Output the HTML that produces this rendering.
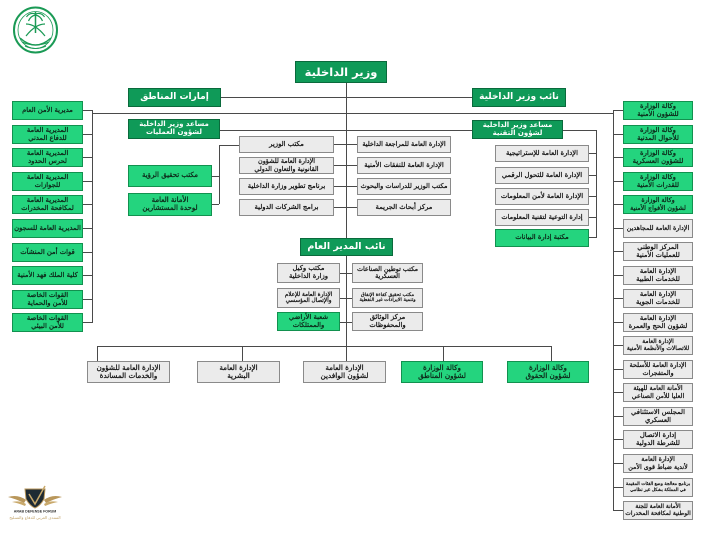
<!DOCTYPE html>
<html><head><meta charset="utf-8">
<style>
html,body{margin:0;padding:0;background:#fff;}
#c{position:relative;width:704px;height:536px;overflow:hidden;background:#fff;font-family:"DejaVu Sans","Liberation Sans",sans-serif;}
.b{position:absolute;display:flex;align-items:center;justify-content:center;text-align:center;box-sizing:border-box;direction:rtl;white-space:nowrap;line-height:1.12;}
.d{background:#0f9a58;border:1px solid #0a6a3c;color:#fff;font-weight:bold;}
.l{background:#24d47e;border:1px solid #12914f;color:#0d2417;font-size:6.8px;-webkit-text-stroke:0.25px #0d2417;}
.g{background:#ebebeb;border:1px solid #8a8a8a;color:#111;font-size:6.8px;-webkit-text-stroke:0.25px #111;}
svg{position:absolute;left:0;top:0;}
</style></head><body><div id="c">
<svg width="704" height="536" viewBox="0 0 704 536">
<g stroke="#4a4a4a" stroke-width="1" fill="none" shape-rendering="crispEdges">
<line x1="346.5" y1="83" x2="346.5" y2="238"/>
<line x1="346.5" y1="256" x2="346.5" y2="346"/>
<line x1="221" y1="97.5" x2="472" y2="97.5"/>
<line x1="92.5" y1="113.5" x2="613.5" y2="113.5"/>
<line x1="220" y1="130.5" x2="472" y2="130.5"/>
<line x1="92.5" y1="110" x2="92.5" y2="323"/>
<line x1="83" y1="110.5" x2="92" y2="110.5"/><line x1="83" y1="134.5" x2="92" y2="134.5"/><line x1="83" y1="157.5" x2="92" y2="157.5"/><line x1="83" y1="181.5" x2="92" y2="181.5"/><line x1="83" y1="204.5" x2="92" y2="204.5"/><line x1="83" y1="228.5" x2="92" y2="228.5"/><line x1="83" y1="252.5" x2="92" y2="252.5"/><line x1="83" y1="275.5" x2="92" y2="275.5"/><line x1="83" y1="299.5" x2="92" y2="299.5"/><line x1="83" y1="322.5" x2="92" y2="322.5"/>
<line x1="613.5" y1="110" x2="613.5" y2="511"/>
<line x1="613" y1="110.5" x2="623" y2="110.5"/><line x1="613" y1="134.5" x2="623" y2="134.5"/><line x1="613" y1="157.5" x2="623" y2="157.5"/><line x1="613" y1="181.5" x2="623" y2="181.5"/><line x1="613" y1="204.5" x2="623" y2="204.5"/><line x1="613" y1="228.5" x2="623" y2="228.5"/><line x1="613" y1="251.5" x2="623" y2="251.5"/><line x1="613" y1="275.5" x2="623" y2="275.5"/><line x1="613" y1="298.5" x2="623" y2="298.5"/><line x1="613" y1="322.5" x2="623" y2="322.5"/><line x1="613" y1="345.5" x2="623" y2="345.5"/><line x1="613" y1="369.5" x2="623" y2="369.5"/><line x1="613" y1="392.5" x2="623" y2="392.5"/><line x1="613" y1="416.5" x2="623" y2="416.5"/><line x1="613" y1="439.5" x2="623" y2="439.5"/><line x1="613" y1="463.5" x2="623" y2="463.5"/><line x1="613" y1="487.5" x2="623" y2="487.5"/><line x1="613" y1="510.5" x2="623" y2="510.5"/>
<line x1="563" y1="130.5" x2="596.5" y2="130.5"/>
<line x1="596.5" y1="130" x2="596.5" y2="238"/>
<line x1="589" y1="153.5" x2="596" y2="153.5"/><line x1="589" y1="175.5" x2="596" y2="175.5"/><line x1="589" y1="196.5" x2="596" y2="196.5"/><line x1="589" y1="217.5" x2="596" y2="217.5"/><line x1="589" y1="237.5" x2="596" y2="237.5"/>
<line x1="334" y1="144.5" x2="357" y2="144.5"/><line x1="334" y1="165.5" x2="357" y2="165.5"/><line x1="334" y1="186.5" x2="357" y2="186.5"/><line x1="334" y1="207.5" x2="357" y2="207.5"/>
<line x1="219.5" y1="145.5" x2="239" y2="145.5"/>
<line x1="219.5" y1="145" x2="219.5" y2="204"/>
<line x1="212" y1="176.5" x2="219" y2="176.5"/><line x1="212" y1="204.5" x2="219" y2="204.5"/>
<line x1="340" y1="273.5" x2="352" y2="273.5"/><line x1="340" y1="298.5" x2="352" y2="298.5"/><line x1="340" y1="322.5" x2="352" y2="322.5"/>
<line x1="97.5" y1="346.5" x2="551.5" y2="346.5"/>
<line x1="97.5" y1="346" x2="97.5" y2="361"/><line x1="242.5" y1="346" x2="242.5" y2="361"/><line x1="443.5" y1="346" x2="443.5" y2="361"/><line x1="551.5" y1="346" x2="551.5" y2="361"/><line x1="346.5" y1="346" x2="346.5" y2="361"/>
</g>
<g fill="none" stroke="#1a9a55">
<ellipse cx="35.5" cy="30" rx="21.5" ry="22.5" stroke-width="2"/>
<ellipse cx="35.5" cy="30" rx="17.5" ry="18.5" stroke-width="0.8"/>
<line x1="35.5" y1="12" x2="35.5" y2="33" stroke-width="1.5"/>
<path d="M35.5 14 q-6 -2 -9 3 M35.5 14 q6 -2 9 3 M35.5 15 q-5 1 -7 6 M35.5 15 q5 1 7 6" stroke-width="1.2"/>
<path d="M26 36 Q35.5 24 45 24 M45 36 Q35.5 24 26 24" stroke-width="1.2"/>
<path d="M20 38 Q35.5 52 51 38" stroke-width="1.5"/>
<path d="M22 42 Q35.5 48 49 42" stroke-width="1"/>
<path d="M25 46 Q35.5 51 46 46" stroke-width="1"/>
</g>
<g>
<path d="M8 497 Q18 494 26 500 L24 503 Q16 499 8 497Z" fill="#b9975b"/>
<path d="M62 497 Q52 494 44 500 L46 503 Q54 499 62 497Z" fill="#b9975b"/>
<path d="M12 502 Q20 500 26 504 L25 506 Q18 503 12 502Z" fill="#c9a96b"/>
<path d="M58 502 Q50 500 44 504 L45 506 Q52 503 58 502Z" fill="#c9a96b"/>
<path d="M25 489 L45 489 L44 499 Q40 506 35 508 Q30 506 26 499Z" fill="#1e2a33" stroke="#b9975b" stroke-width="1"/>
<path d="M29 494 L35 504 L45 486" fill="none" stroke="#c9a96b" stroke-width="1.5"/>
<text x="35" y="512.5" font-family="Liberation Sans, sans-serif" font-size="3.6" font-weight="bold" fill="#333" text-anchor="middle">ARAB DEFENSE FORUM</text>
<text x="35" y="519" font-family="DejaVu Sans, sans-serif" font-size="4" fill="#c2a36a" text-anchor="middle">المنتدى العربي للدفاع والتسليح</text>
</g>
</svg>

<div class="b d" style="left:295px;top:61px;width:92px;height:22px;font-size:11.5px;">وزير الداخلية</div>
<div class="b d" style="left:128px;top:88px;width:93px;height:19px;font-size:9px;">إمارات المناطق</div>
<div class="b d" style="left:472px;top:88px;width:94px;height:19px;font-size:9px;">نائب وزير الداخلية</div>
<div class="b d" style="left:128px;top:119px;width:92px;height:20px;font-size:7px;">مساعد وزير الداخلية<br>لشؤون العمليات</div>
<div class="b d" style="left:472px;top:120px;width:91px;height:19px;font-size:7px;">مساعد وزير الداخلية<br>لشؤون التقنية</div>
<div class="b d" style="left:300px;top:238px;width:93px;height:18px;font-size:9.5px;">نائب المدير العام</div>

<div class="b l" style="left:12px;top:101px;width:71px;height:19px;">مديرية الأمن العام</div>
<div class="b l" style="left:12px;top:125px;width:71px;height:19px;">المديرية العامة<br>للدفاع المدني</div>
<div class="b l" style="left:12px;top:148px;width:71px;height:19px;">المديرية العامة<br>لحرس الحدود</div>
<div class="b l" style="left:12px;top:172px;width:71px;height:19px;">المديرية العامة<br>للجوازات</div>
<div class="b l" style="left:12px;top:195px;width:71px;height:19px;">المديرية العامة<br>لمكافحة المخدرات</div>
<div class="b l" style="left:12px;top:219px;width:71px;height:19px;">المديرية العامة للسجون</div>
<div class="b l" style="left:12px;top:243px;width:71px;height:19px;">قوات أمن المنشآت</div>
<div class="b l" style="left:12px;top:266px;width:71px;height:19px;">كلية الملك فهد الأمنية</div>
<div class="b l" style="left:12px;top:290px;width:71px;height:19px;">القوات الخاصة<br>للأمن والحماية</div>
<div class="b l" style="left:12px;top:313px;width:71px;height:19px;">القوات الخاصة<br>للأمن البيئي</div>

<div class="b l" style="left:623px;top:101px;width:70px;height:19px;">وكالة الوزارة<br>للشؤون الأمنية</div>
<div class="b l" style="left:623px;top:125px;width:70px;height:19px;">وكالة الوزارة<br>للأحوال المدنية</div>
<div class="b l" style="left:623px;top:148px;width:70px;height:19px;">وكالة الوزارة<br>للشؤون العسكرية</div>
<div class="b l" style="left:623px;top:172px;width:70px;height:19px;">وكالة الوزارة<br>للقدرات الأمنية</div>
<div class="b l" style="left:623px;top:195px;width:70px;height:19px;font-size:6.3px;">وكالة الوزارة<br>لشؤون الأفواج الأمنية</div>
<div class="b g" style="left:623px;top:219px;width:70px;height:19px;font-size:6.3px;">الإدارة العامة للمجاهدين</div>
<div class="b g" style="left:623px;top:242px;width:70px;height:19px;">المركز الوطني<br>للعمليات الأمنية</div>
<div class="b g" style="left:623px;top:266px;width:70px;height:19px;">الإدارة العامة<br>للخدمات الطبية</div>
<div class="b g" style="left:623px;top:289px;width:70px;height:19px;">الإدارة العامة<br>للخدمات الجوية</div>
<div class="b g" style="left:623px;top:313px;width:70px;height:19px;">الإدارة العامة<br>لشؤون الحج والعمرة</div>
<div class="b g" style="left:623px;top:336px;width:70px;height:19px;font-size:5.9px;">الإدارة العامة<br>للاتصالات والأنظمة الأمنية</div>
<div class="b g" style="left:623px;top:360px;width:70px;height:19px;font-size:6.4px;">الإدارة العامة للأسلحة<br>والمتفجرات</div>
<div class="b g" style="left:623px;top:383px;width:70px;height:19px;font-size:6.3px;">الأمانة العامة للهيئة<br>العليا للأمن الصناعي</div>
<div class="b g" style="left:623px;top:407px;width:70px;height:19px;">المجلس الاستئنافي<br>العسكري</div>
<div class="b g" style="left:623px;top:430px;width:70px;height:19px;">إدارة الاتصال<br>للشرطة الدولية</div>
<div class="b g" style="left:623px;top:454px;width:70px;height:19px;font-size:6.3px;">الإدارة العامة<br>لأندية ضباط قوى الأمن</div>
<div class="b g" style="left:623px;top:478px;width:70px;height:19px;font-size:4.5px;">برنامج معالجة وضع الفئات المقيمة<br>في المملكة بشكل غير نظامي</div>
<div class="b g" style="left:623px;top:501px;width:70px;height:19px;font-size:5.9px;">الأمانة العامة للجنة<br>الوطنية لمكافحة المخدرات</div>

<div class="b g" style="left:239px;top:136px;width:95px;height:17px;">مكتب الوزير</div>
<div class="b g" style="left:239px;top:157px;width:95px;height:17px;font-size:6.4px;">الإدارة العامة للشؤون<br>القانونية والتعاون الدولي</div>
<div class="b g" style="left:239px;top:178px;width:95px;height:17px;">برنامج تطوير وزارة الداخلية</div>
<div class="b g" style="left:239px;top:199px;width:95px;height:17px;">برامج الشركات الدولية</div>
<div class="b g" style="left:357px;top:136px;width:94px;height:17px;font-size:6.5px;">الإدارة العامة للمراجعة الداخلية</div>
<div class="b g" style="left:357px;top:157px;width:94px;height:17px;">الإدارة العامة للنفقات الأمنية</div>
<div class="b g" style="left:357px;top:178px;width:94px;height:17px;font-size:6.6px;">مكتب الوزير للدراسات والبحوث</div>
<div class="b g" style="left:357px;top:199px;width:94px;height:17px;">مركز أبحاث الجريمة</div>
<div class="b l" style="left:128px;top:165px;width:84px;height:22px;font-size:7px;">مكتب تحقيق الرؤية</div>
<div class="b l" style="left:128px;top:193px;width:84px;height:23px;font-size:7px;">الأمانة العامة<br>لوحدة المستشارين</div>

<div class="b g" style="left:495px;top:145px;width:94px;height:17px;">الإدارة العامة للإستراتيجية</div>
<div class="b g" style="left:495px;top:167px;width:94px;height:17px;">الإدارة العامة للتحول الرقمي</div>
<div class="b g" style="left:495px;top:188px;width:94px;height:17px;">الإدارة العامة لأمن المعلومات</div>
<div class="b g" style="left:495px;top:209px;width:94px;height:17px;font-size:6.6px;">إدارة التوعية لتقنية المعلومات</div>
<div class="b l" style="left:495px;top:229px;width:94px;height:18px;">مكتبة إدارة البيانات</div>

<div class="b g" style="left:277px;top:263px;width:63px;height:20px;">مكتب وكيل<br>وزارة الداخلية</div>
<div class="b g" style="left:277px;top:288px;width:63px;height:20px;font-size:5.7px;">الإدارة العامة للإعلام<br>والإتصال المؤسسي</div>
<div class="b l" style="left:277px;top:312px;width:63px;height:19px;">شعبة الأراضي<br>والممتلكات</div>
<div class="b g" style="left:352px;top:263px;width:71px;height:20px;font-size:6.4px;">مكتب توطين الصناعات<br>العسكرية</div>
<div class="b g" style="left:352px;top:288px;width:71px;height:20px;font-size:4.9px;">مكتب تحقيق كفاءة الإنفاق<br>وتنمية الايرادات غير النفطية</div>
<div class="b g" style="left:352px;top:312px;width:71px;height:19px;">مركز الوثائق<br>والمحفوظات</div>

<div class="b g" style="left:87px;top:361px;width:83px;height:22px;font-size:7.2px;">الإدارة العامة للشؤون<br>والخدمات المساندة</div>
<div class="b g" style="left:197px;top:361px;width:83px;height:22px;font-size:7.2px;">الإدارة العامة<br>البشرية</div>
<div class="b g" style="left:303px;top:361px;width:83px;height:22px;font-size:7.2px;">الإدارة العامة<br>لشؤون الوافدين</div>
<div class="b l" style="left:401px;top:361px;width:82px;height:22px;font-size:7.2px;">وكالة الوزارة<br>لشؤون المناطق</div>
<div class="b l" style="left:507px;top:361px;width:82px;height:22px;font-size:7.2px;">وكالة الوزارة<br>لشؤون الحقوق</div>
</div></body></html>
